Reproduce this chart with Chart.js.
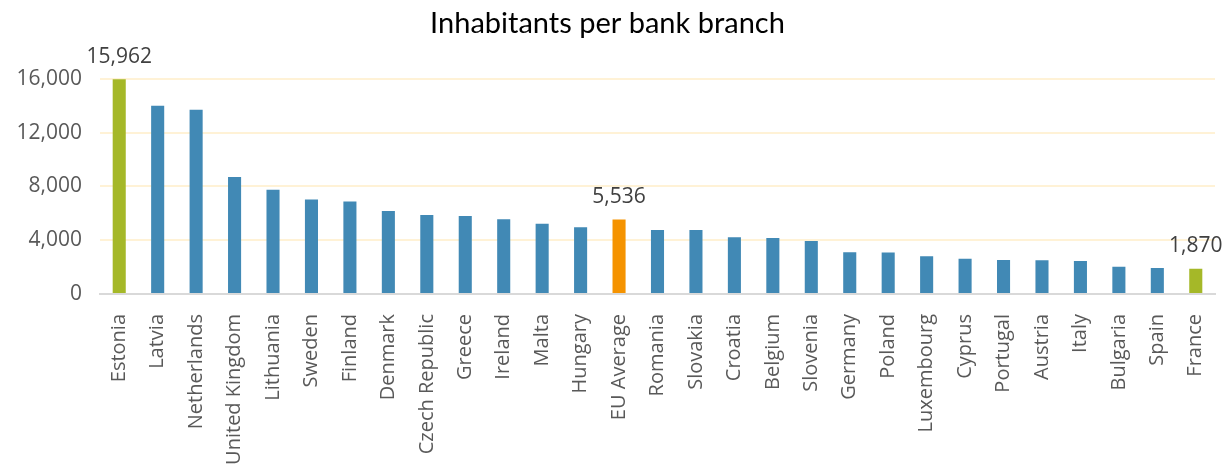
<!DOCTYPE html>
<html>
<head>
<meta charset="utf-8">
<script src="https://cdn.jsdelivr.net/npm/chart.js@4.4.1/dist/chart.umd.min.js"></script>
<style>
    html, body { margin: 0; padding: 0; background: #ffffff; font-family: 'Open Sans', sans-serif; }
    #wrap { width: 1225px; height: 466px; position: relative; }
</style>
</head>
<body>
<div id="wrap"><canvas id="branchChart"></canvas></div>
<script>
const countries = ['Estonia', 'Latvia', 'Netherlands', 'United Kingdom', 'Lithuania', 'Sweden', 'Finland',
    'Denmark', 'Czech Republic', 'Greece', 'Ireland', 'Malta', 'Hungary', 'EU Average', 'Romania',
    'Slovakia', 'Croatia', 'Belgium', 'Slovenia', 'Germany', 'Poland', 'Luxembourg', 'Cyprus',
    'Portugal', 'Austria', 'Italy', 'Bulgaria', 'Spain', 'France'];
const inhabitants = [15962, 14000, 13700, 8700, 7750, 7020, 6870, 6180, 5880, 5800, 5560, 5230, 4960,
    5536, 4760, 4750, 4220, 4170, 3940, 3100, 3080, 2800, 2630, 2530, 2510, 2460, 2030, 1930, 1870];
const yTicks = [0, 4000, 8000, 12000, 16000];
const labelled = ['Estonia', 'EU Average', 'France'];

const colors = {
    bar: '#4189B5',
    highlight: '#A5B828',
    average: '#F59300',
    grid: '#FFF2D6',
    axis: '#D9D9D9',
    text: '#595959',
};

const barColors = countries.map(c => {
    if (c === 'EU Average') return colors.average;
    if (c === 'Estonia' || c === 'France') return colors.highlight;
    return colors.bar;
});

// value labels over the highlighted bars
const valueLabels = {
    id: 'valueLabels',
    afterDatasetsDraw(chart) {
        const ctx = chart.ctx;
        const meta = chart.getDatasetMeta(0);
        ctx.save();
        ctx.font = '21px "Open Sans"';
        ctx.fillStyle = '#404040';
        ctx.textAlign = 'center';
        ctx.textBaseline = 'bottom';
        countries.forEach((c, i) => {
            if (!labelled.includes(c)) return;
            const bar = meta.data[i];
            ctx.fillText(inhabitants[i].toLocaleString('en-US'), bar.x, bar.y - 12);
        });
        ctx.restore();
    },
};

function drawChart() {
    const ctx = document.getElementById('branchChart').getContext('2d');
    return new Chart(ctx, {
        type: 'bar',
        data: {
            labels: countries,
            datasets: [{
                data: inhabitants,
                backgroundColor: barColors,
                barPercentage: 0.34,
                categoryPercentage: 1.0,
            }],
        },
        options: {
            responsive: true,
            maintainAspectRatio: false,
            animation: false,
            layout: { padding: { left: 0, right: 10, top: 0, bottom: 0 } },
            scales: {
                y: {
                    min: 0,
                    max: 16000,
                    afterBuildTicks(scale) {
                        scale.ticks = yTicks.map(v => ({ value: v }));
                    },
                    afterFit(scale) { scale.width = 100; },
                    ticks: {
                        color: colors.text,
                        font: { family: "'Open Sans'", size: 21 },
                        padding: 18,
                        callback: v => v.toLocaleString('en-US'),
                    },
                    grid: { color: colors.grid, lineWidth: 2, drawTicks: false },
                    border: { display: false },
                },
                x: {
                    afterFit(scale) {
                        scale.height = 172;
                        scale.paddingLeft = 0;
                        scale.paddingRight = 0;
                    },
                    ticks: {
                        color: colors.text,
                        font: { family: "'Open Sans'", size: 20 },
                        minRotation: 90,
                        maxRotation: 90,
                        autoSkip: false,
                        padding: 12,
                    },
                    grid: { display: false },
                    border: { color: colors.axis, width: 2 },
                },
            },
            plugins: {
                legend: { display: false },
                tooltip: { enabled: false },
                title: {
                    display: true,
                    text: 'Inhabitants per bank branch',
                    color: '#000000',
                    font: { family: 'Lato', size: 29, weight: 'normal' },
                    padding: { top: 6, bottom: 38 },
                },
            },
        },
        plugins: [valueLabels],
    });
}

Promise.all([
    document.fonts.load('21px "Open Sans"'),
    document.fonts.load('29px Lato'),
]).catch(() => {}).then(drawChart);
</script>
</body>
</html>
